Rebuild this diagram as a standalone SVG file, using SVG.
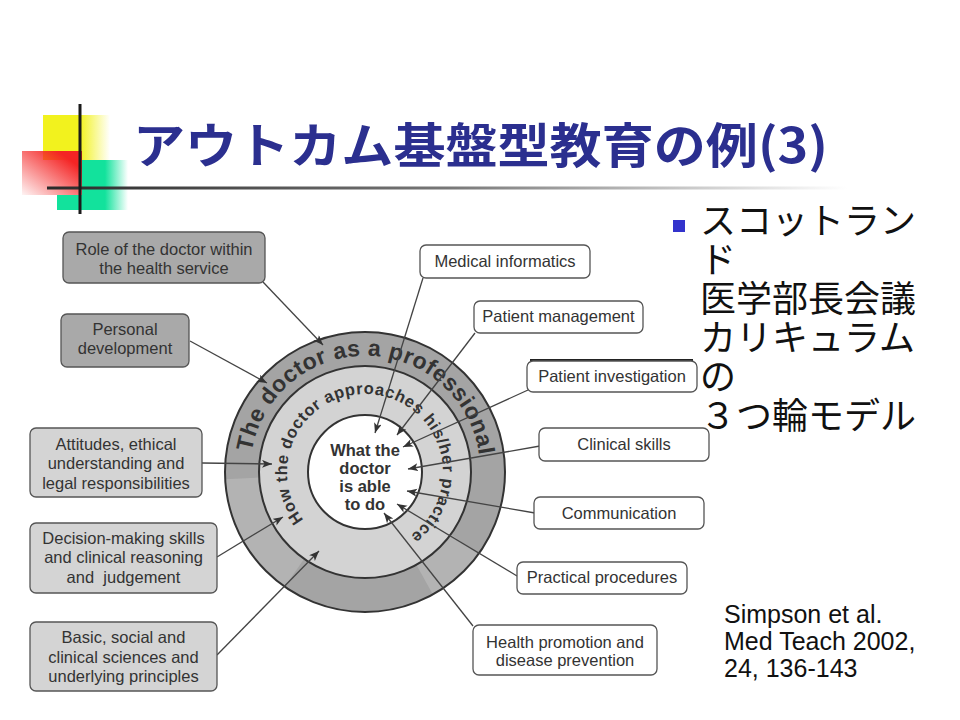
<svg xmlns="http://www.w3.org/2000/svg" width="960" height="720" viewBox="0 0 960 720">
<defs>
<style>
.bx{font-family:"Liberation Sans",Arial,sans-serif;font-size:16.5px;fill:#333;text-anchor:middle}
.dark{fill:#a9a9a9;stroke:#555;stroke-width:1.3}
.light{fill:#d4d4d4;stroke:#555;stroke-width:1.3}
.white{fill:#fff;stroke:#555;stroke-width:1.3}
.cn{stroke:#444;stroke-width:1.3;fill:none;marker-end:url(#ah)}
.jp{font-family:"Noto Sans CJK JP","Noto Sans",sans-serif;font-size:36px;fill:#111}
.ring{font-family:"Liberation Sans",Arial,sans-serif;font-weight:bold;fill:#333}
</style>
<marker id="ah" markerUnits="userSpaceOnUse" markerWidth="12" markerHeight="9" refX="10" refY="4" orient="auto">
<path d="M0,0 L10,4 L0,8 L2.5,4 Z" fill="#333"/>
</marker>
<linearGradient id="gY" x1="0" y1="0" x2="1" y2="0">
<stop offset="0" stop-color="#f2f21e"/><stop offset="0.55" stop-color="#f2f21e"/><stop offset="1" stop-color="#f2f21e" stop-opacity="0"/>
</linearGradient>
<linearGradient id="gG" x1="0" y1="0" x2="1" y2="0">
<stop offset="0" stop-color="#12e29c"/><stop offset="0.5" stop-color="#12e29c"/><stop offset="1" stop-color="#12e29c" stop-opacity="0"/>
</linearGradient>
<linearGradient id="gR" x1="1" y1="0" x2="0" y2="1">
<stop offset="0" stop-color="#f42424"/><stop offset="0.2" stop-color="#f42424"/><stop offset="1" stop-color="#f42424" stop-opacity="0.05"/>
</linearGradient>
<linearGradient id="gL" x1="0" y1="0" x2="1" y2="0">
<stop offset="0" stop-color="#2a2a2a"/><stop offset="0.5" stop-color="#777"/><stop offset="1" stop-color="#fff"/>
</linearGradient>
<path id="pOuter" d="M251.76,451.86 A115,115 0 0 1 479.24,455.99"/>
<path id="pMid" d="M303.54,520.02 A78,78 0 1 1 411.94,534.29"/>
</defs>
<rect width="960" height="720" fill="#fff"/>

<g id="decoration">
<rect x="43" y="115" width="67" height="45" fill="url(#gY)"/>
<rect x="82" y="160" width="46" height="50" fill="url(#gG)"/>
<rect x="57" y="195" width="26" height="15" fill="#12e29c"/>
<rect x="22" y="151" width="60" height="44" fill="url(#gR)"/>
<rect x="47" y="186.5" width="800" height="3" fill="url(#gL)"/>
<rect x="78.5" y="104" width="3" height="110" fill="#1a1a1a"/>
</g>

<g id="title">
<text x="133" y="163" font-family="'Noto Sans CJK JP','Noto Sans',sans-serif" font-weight="bold" font-size="48" fill="#2b2f8f" textLength="695" lengthAdjust="spacingAndGlyphs">アウトカム基盤型教育の例(3)</text>
</g>

<g id="bullet-text">
<rect x="673" y="220" width="12" height="12" fill="#3333cc"/>
<text class="jp" x="700" y="234">スコットラン</text>
<text class="jp" x="700" y="273">ド</text>
<text class="jp" x="700" y="312">医学部長会議</text>
<text class="jp" x="700" y="351">カリキュラム</text>
<text class="jp" x="700" y="390">の</text>
<text class="jp" x="700" y="429">３つ輪モデル</text>
</g>

<g id="citation" font-family="'Liberation Sans',Arial,sans-serif" font-size="25" fill="#111">
<text x="724" y="623">Simpson et al.</text>
<text x="724" y="650">Med Teach 2002,</text>
<text x="724" y="677">24, 136-143</text>
</g>

<g id="circles">
<circle cx="365" cy="472" r="140" fill="#a4a4a4"/>
<path d="M225.19,479.33 A140,140 0 0 0 284.70,586.68 L304.20,558.83 A106,106 0 0 1 259.15,477.55 Z" fill="#b3b3b3"/>
<path d="M478.26,554.29 A140,140 0 0 1 432.87,594.45 L416.39,564.71 A106,106 0 0 0 450.76,534.31 Z" fill="#b3b3b3"/>
<circle cx="365" cy="472" r="140" fill="none" stroke="#333" stroke-width="2"/>
<circle cx="365" cy="472" r="106" fill="#d3d3d3" stroke="#333" stroke-width="2"/>
<circle cx="365" cy="472" r="57" fill="#fff" stroke="#333" stroke-width="2"/>
<text class="ring" font-size="23"><textPath href="#pOuter" textLength="326" lengthAdjust="spacing">The doctor as a professional</textPath></text>
<text class="ring" font-size="16.5" font-weight="600"><textPath href="#pMid" textLength="370" lengthAdjust="spacing">How the doctor approaches his/her practice</textPath></text>
<g class="ring" font-size="16.5" text-anchor="middle">
<text x="365" y="456">What the</text>
<text x="365" y="474">doctor</text>
<text x="365" y="492">is able</text>
<text x="365" y="510">to do</text>
</g>
</g>

<g id="connectors">
<path class="cn" d="M263,282 L323,345"/>
<path class="cn" d="M190,341 L267,383"/>
<path class="cn" d="M202,463 L272,464"/>
<path class="cn" d="M217,557 L283,517"/>
<path class="cn" d="M217,655 L319,551"/>
<path class="cn" d="M423,278 L375,433"/>
<path class="cn" d="M475,333 L397,435"/>
<path class="cn" d="M528,390 L403,447"/>
<path class="cn" d="M540,446 L408,469"/>
<path class="cn" d="M535,513 L407,491"/>
<path class="cn" d="M517,576 L397,504"/>
<path class="cn" d="M473,626 L384,513"/>
</g>

<g id="n-role"><rect class="dark" x="63" y="232" width="202" height="51" rx="6"/>
<text class="bx" x="164" y="255">Role of the doctor within</text><text class="bx" x="164" y="274">the health service</text></g>
<g id="n-personal"><rect class="dark" x="61" y="314" width="128" height="53" rx="6"/>
<text class="bx" x="125" y="335">Personal</text><text class="bx" x="125" y="354">development</text></g>
<g id="n-attitudes"><rect class="light" x="30" y="428" width="172" height="69" rx="6"/>
<text class="bx" x="116" y="450">Attitudes, ethical</text><text class="bx" x="116" y="469">understanding and</text><text class="bx" x="116" y="489">legal responsibilities</text></g>
<g id="n-decision"><rect class="light" x="30" y="523" width="187" height="70" rx="6"/>
<text class="bx" x="123.5" y="544">Decision-making skills</text><text class="bx" x="123.5" y="563">and clinical reasoning</text><text class="bx" x="123.5" y="583">and &#160;judgement</text></g>
<g id="n-basic"><rect class="light" x="30" y="622" width="187" height="69" rx="6"/>
<text class="bx" x="123.5" y="643">Basic, social and</text><text class="bx" x="123.5" y="663">clinical sciences and</text><text class="bx" x="123.5" y="682">underlying principles</text></g>

<g id="n-medical"><rect class="white" x="420" y="245" width="170" height="33" rx="6"/><text class="bx" x="505" y="267">Medical informatics</text></g>
<g id="n-mgmt"><rect class="white" x="474" y="301" width="169" height="32" rx="6"/><text class="bx" x="558.5" y="322">Patient management</text></g>
<line x1="530" y1="360" x2="693" y2="360" stroke="#222" stroke-width="2"/>
<g id="n-invest"><rect class="white" x="527" y="361" width="170" height="31" rx="6"/><text class="bx" x="612" y="382">Patient investigation</text></g>
<g id="n-clinical"><rect class="white" x="539" y="428" width="170" height="33" rx="6"/><text class="bx" x="624" y="450">Clinical skills</text></g>
<g id="n-comm"><rect class="white" x="534" y="497" width="170" height="32" rx="6"/><text class="bx" x="619" y="519">Communication</text></g>
<g id="n-practical"><rect class="white" x="517" y="562" width="170" height="32" rx="6"/><text class="bx" x="602" y="583">Practical procedures</text></g>
<g id="n-health"><rect class="white" x="473" y="625" width="184" height="50" rx="6"/>
<text class="bx" x="565" y="648">Health promotion and</text><text class="bx" x="565" y="666">disease prevention</text></g>
</svg>
